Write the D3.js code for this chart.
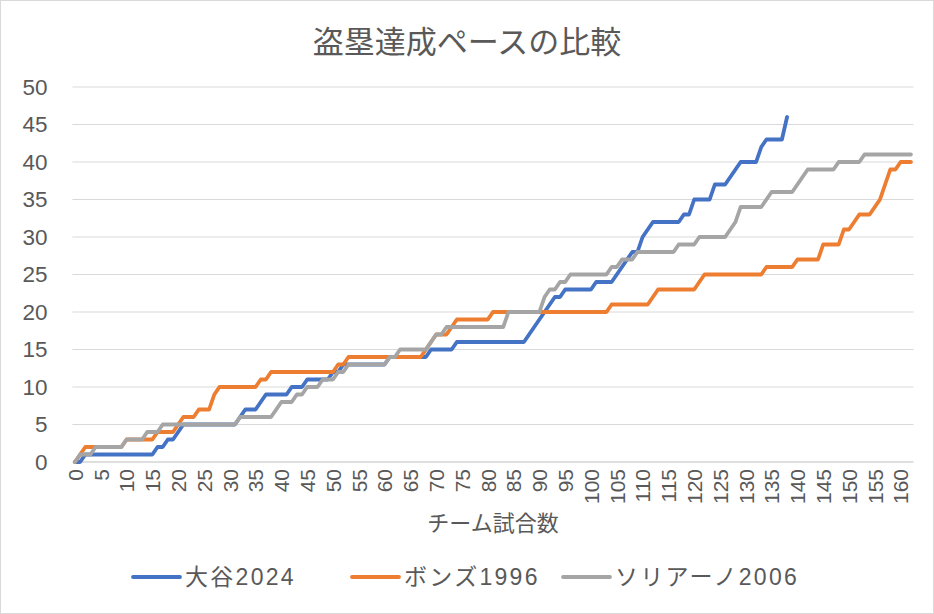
<!DOCTYPE html>
<html><head><meta charset="utf-8">
<script src="https://cdn.jsdelivr.net/npm/d3@7"></script>
<style>
html,body{margin:0;padding:0;background:#fff;}
svg{display:block;}
text{font-family:"Liberation Sans","Noto Sans CJK JP",sans-serif;fill:#595959;}
</style></head>
<body>
<svg id="chart" width="934" height="614"></svg>
<script>
// ---- data ----
const seriesNames = ["大谷2024", "ボンズ1996", "ソリアーノ2006"];
const seriesColors = ["#4472C4", "#ED7D31", "#A5A5A5"];
const chartTitle = "盗塁達成ペースの比較";
const xAxisTitle = "チーム試合数";
const games = d3.range(0, 163);
const xTickLabels = d3.range(0, 161, 5);
const yTickValues = [0,5,10,15,20,25,30,35,40,45,50];

// cumulative stolen bases by team game (index = game number)
const ohtani2024 = [
 0,0,1,1,1,1,1,1,1,1,
 1,1,1,1,1,1,2,2,3,3,
 4,5,5,5,5,5,5,5,5,5,
 5,5,6,7,7,7,8,9,9,9,
 9,9,10,10,10,11,11,11,11,11,
 12,12,13,13,13,13,13,13,13,13,
 13,14,14,14,14,14,14,14,14,15,
 15,15,15,15,16,16,16,16,16,16,
 16,16,16,16,16,16,16,16,17,18,
 19,20,21,22,22,23,23,23,23,23,
 23,24,24,24,24,25,26,27,28,28,
 30,31,32,32,32,32,32,32,33,33,
 35,35,35,35,37,37,37,38,39,40,
 40,40,40,42,43,43,43,43,46
];
const bonds1996 = [
 0,1,2,2,2,2,2,2,2,2,
 3,3,3,3,3,3,4,4,4,4,
 5,6,6,6,7,7,7,9,10,10,
 10,10,10,10,10,10,11,11,12,12,
 12,12,12,12,12,12,12,12,12,12,
 12,13,13,14,14,14,14,14,14,14,
 14,14,14,14,14,14,14,14,15,16,
 17,17,17,18,19,19,19,19,19,19,
 19,20,20,20,20,20,20,20,20,20,
 20,20,20,20,20,20,20,20,20,20,
 20,20,20,20,21,21,21,21,21,21,
 21,21,22,23,23,23,23,23,23,23,
 23,24,25,25,25,25,25,25,25,25,
 25,25,25,25,26,26,26,26,26,26,
 27,27,27,27,27,29,29,29,29,31,
 31,32,33,33,33,34,35,37,39,39,
 40,40,40
];
const soriano2006 = [
 0,1,1,1,2,2,2,2,2,2,
 3,3,3,3,4,4,4,5,5,5,
 5,5,5,5,5,5,5,5,5,5,
 5,5,6,6,6,6,6,6,6,7,
 8,8,8,9,9,10,10,10,11,11,
 11,12,12,13,13,13,13,13,13,13,
 13,14,14,15,15,15,15,15,15,16,
 17,17,18,18,18,18,18,18,18,18,
 18,18,18,18,20,20,20,20,20,20,
 20,22,23,23,24,24,25,25,25,25,
 25,25,25,25,26,26,27,27,27,28,
 28,28,28,28,28,28,28,29,29,29,
 29,30,30,30,30,30,30,31,32,34,
 34,34,34,34,35,36,36,36,36,36,
 37,38,39,39,39,39,39,39,40,40,
 40,40,40,41,41,41,41,41,41,41,
 41,41,41
];
const seriesValues = [ohtani2024, bonds1996, soriano2006];

// ---- layout ----
const W = 934, H = 614;
const plot = {left: 72.4, right: 913.5, top: 87, bottom: 462};
const svg = d3.select("#chart");

svg.append("rect").attr("x",0.5).attr("y",0.5).attr("width",W-1).attr("height",H-1)
  .attr("fill","#fff").attr("stroke","#D9D9D9");

const x = d3.scalePoint().domain(games).range([plot.left, plot.right]).padding(0.5);
const y = d3.scaleLinear().domain([0,50]).range([plot.bottom, plot.top]);

// gridlines
svg.append("g").selectAll("line").data(yTickValues.filter(v=>v>0)).join("line")
  .attr("x1",plot.left).attr("x2",plot.right)
  .attr("y1",d=>y(d)).attr("y2",d=>y(d))
  .attr("stroke","#D9D9D9").attr("stroke-width",1);

// y axis labels
const yAxis = d3.axisLeft(y).tickValues(yTickValues).tickSize(0).tickPadding(0);
const yg = svg.append("g").attr("transform",`translate(47.5,0)`).call(yAxis);
yg.select(".domain").remove();
yg.selectAll("text").attr("font-size","22.5px").style("font-family",'"Liberation Sans",sans-serif').attr("fill","#595959");

// x axis line
svg.append("line").attr("x1",plot.left).attr("x2",plot.right)
  .attr("y1",plot.bottom).attr("y2",plot.bottom).attr("stroke","#BFBFBF").attr("stroke-width",1);

// x axis labels (rotated)
const xAxis = d3.axisBottom(x).tickValues(xTickLabels).tickSize(0).tickPadding(0);
const xg = svg.append("g").attr("transform",`translate(0,${plot.bottom})`).call(xAxis);
xg.select(".domain").remove();
xg.selectAll("text")
  .attr("font-size","21px").style("font-family",'"Liberation Sans",sans-serif').attr("fill","#595959")
  .attr("text-anchor","end").attr("dy","0.35em")
  .attr("transform","translate(0,7) rotate(-90)")
  .attr("x",0).attr("y",0);

// lines
const line = d3.line().x((d,i)=>x(i)).y(d=>y(d));
seriesValues.forEach((vals,k)=>{
  svg.append("path").datum(vals).attr("d",line)
    .attr("fill","none").attr("stroke",seriesColors[k]).attr("stroke-width",3.8)
    .attr("stroke-linejoin","round").attr("stroke-linecap","round");
});

// title
svg.append("text").attr("x",467).attr("y",53).attr("text-anchor","middle")
  .attr("font-size","31px").text(chartTitle);

// x axis title
svg.append("text").attr("x",493).attr("y",531).attr("text-anchor","middle")
  .attr("font-size","22px").text(xAxisTitle);

// legend
const legendStarts = [133, 352, 563];
seriesNames.forEach((n,k)=>{
  const g = svg.append("g").attr("transform",`translate(${legendStarts[k]},577)`);
  g.append("line").attr("x1",0).attr("x2",47).attr("y1",0).attr("y2",0)
    .attr("stroke",seriesColors[k]).attr("stroke-width",3.8).attr("stroke-linecap","round");
  g.append("text").attr("x",52).attr("y",0).attr("dy","0.35em")
    .attr("font-size","23px").attr("letter-spacing","2.3px").text(n);
});
</script>
</body></html>
